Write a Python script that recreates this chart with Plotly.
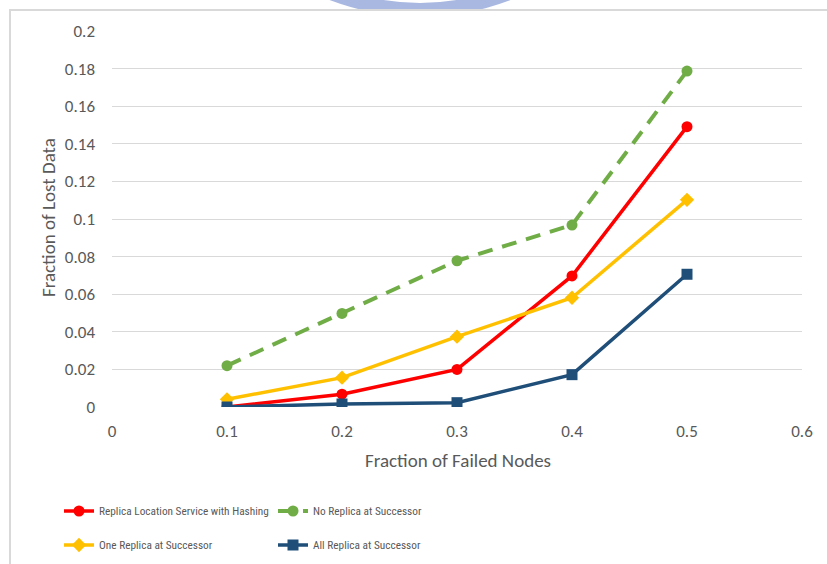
import plotly.graph_objects as go

# Fraction of failed nodes (x) and fraction of lost data (y) for each scheme
failed_nodes = [0.1, 0.2, 0.3, 0.4, 0.5]
rls_hashing = [0.0, 0.0068, 0.0200, 0.0697, 0.1491]
no_replica = [0.0220, 0.0498, 0.0778, 0.0968, 0.1787]
one_replica = [0.0041, 0.0156, 0.0374, 0.0581, 0.1102]
all_replica = [0.0, 0.0016, 0.0023, 0.0172, 0.0706]

series_names = [
    "Replica Location Service with Hashing",
    "No Replica at Successor",
    "One Replica at Successor",
    "All Replica at Successor",
]

x_ticks = [0, 0.1, 0.2, 0.3, 0.4, 0.5, 0.6]
y_ticks = [0, 0.02, 0.04, 0.06, 0.08, 0.1, 0.12, 0.14, 0.16, 0.18, 0.2]

W, H = 827, 564
ML, MR, MT, MB = 112, 25, 31, 157
PW, PH = W - ML - MR, H - MT - MB


def px(x):
    return (x - ML) / PW


def py(y):
    return (H - MB - y) / PH


BASE = "Carlito, Lato, Liberation Sans, sans-serif"
TICK_FONT = dict(family=BASE, size=17, color="#595959")
TITLE_FONT = dict(family=BASE, size=19, color="#595959")
LEG_FONT = dict(family="Roboto Condensed, Liberation Sans, sans-serif", size=11.3, color="#595959")

fig = go.Figure()

fig.add_trace(go.Scatter(
    x=failed_nodes, y=rls_hashing, name=series_names[0], mode="lines+markers",
    line=dict(color="#FF0000", width=3.5),
    marker=dict(symbol="circle", size=11, color="#FF0000"),
    legend="legend",
))
fig.add_trace(go.Scatter(
    x=failed_nodes, y=no_replica, name=series_names[1], mode="lines+markers",
    line=dict(color="#70AD47", width=4, dash="15px,10px"),
    marker=dict(symbol="circle", size=11, color="#70AD47"),
    legend="legend",
))
fig.add_trace(go.Scatter(
    x=failed_nodes, y=one_replica, name=series_names[2], mode="lines+markers",
    line=dict(color="#FFC000", width=3.5),
    marker=dict(symbol="diamond", size=11, color="#FFC000"),
    legend="legend2",
))
fig.add_trace(go.Scatter(
    x=failed_nodes, y=all_replica, name=series_names[3], mode="lines+markers",
    line=dict(color="#1F4E79", width=3.5),
    marker=dict(symbol="square", size=11, color="#1F4E79"),
    legend="legend2",
))

fig.update_xaxes(range=[0, 0.6], tickvals=x_ticks, ticktext=[f"{v:g}" for v in x_ticks],
                 ticklabelstandoff=12, showgrid=False, showline=False, zeroline=False,
                 ticks="", tickfont=TICK_FONT, fixedrange=True)
fig.update_yaxes(range=[0, 0.2], tickvals=y_ticks, ticktext=[f"{v:g}" for v in y_ticks],
                 ticklabelstandoff=16, showgrid=True, gridcolor="#D9D9D9", gridwidth=1,
                 showline=False, zeroline=False, ticks="", tickfont=TICK_FONT, fixedrange=True)

# axis titles
fig.add_annotation(text="Fraction of Failed Nodes", xref="paper", yref="paper",
                   x=px(458), y=py(460), xanchor="center", yanchor="middle",
                   showarrow=False, font=TITLE_FONT)
fig.add_annotation(text="Fraction of Lost Data", xref="paper", yref="paper",
                   x=px(48), y=py(218), xanchor="center", yanchor="middle",
                   showarrow=False, textangle=-90, font=TITLE_FONT)

# faint logo arcs peeking above the chart frame
fig.add_shape(type="path", xref="paper", yref="paper", layer="below",
              path=f"M {px(292)},{py(-25)} Q {px(420)},{py(45)} {px(548)},{py(-25)}",
              line=dict(color="rgba(140,160,215,0.75)", width=14))
# chart frame
fig.add_shape(type="rect", xref="paper", yref="paper", layer="below",
              x0=px(10), y0=py(600), x1=px(860), y1=py(10),
              line=dict(color="#D9D9D9", width=2), fillcolor="white")

legend_common = dict(orientation="h", xref="container", yref="container",
                     xanchor="left", yanchor="middle", font=LEG_FONT,
                     entrywidth=169, entrywidthmode="pixels",
                     bgcolor="rgba(0,0,0,0)", borderwidth=0, itemclick=False)
fig.update_layout(
    width=W, height=H,
    margin=dict(l=ML, r=MR, t=MT, b=MB),
    paper_bgcolor="white", plot_bgcolor="white",
    showlegend=True,
    legend=dict(x=59 / W, y=1 - 511 / H, **legend_common),
    legend2=dict(x=59 / W, y=1 - 545 / H, **legend_common),
)

fig.write_html("out.html")
